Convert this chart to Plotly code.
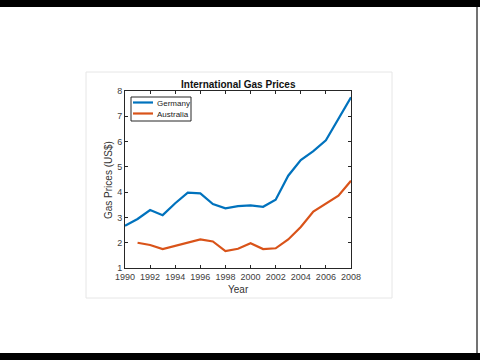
import plotly.graph_objects as go

years = list(range(1990, 2009))
germany = [2.67, 2.94, 3.29, 3.09, 3.56, 3.98, 3.95, 3.53, 3.36, 3.45,
           3.48, 3.42, 3.70, 4.65, 5.27, 5.62, 6.05, 6.90, 7.75]
australia_years = list(range(1991, 2009))
australia = [2.00, 1.91, 1.75, 1.87, 2.00, 2.13, 2.05, 1.67, 1.76,
             1.98, 1.75, 1.78, 2.13, 2.62, 3.23, 3.53, 3.86, 4.45]
series_names = ["Germany", "Australia"]
series_colors = ["#0072BD", "#D95319"]

x_ticks = list(range(1990, 2009, 2))
y_ticks = list(range(1, 9))

# plot area in pixels
L, R, T, B = 125, 351, 91, 268
W, H = 480, 360
pw, ph = R - L, B - T


def px(x):
    return (x - L) / pw


def py(y):
    return (B - y) / ph


FONT = "Liberation Sans, Arial, sans-serif"

fig = go.Figure()
fig.add_trace(go.Scatter(x=years, y=germany, mode="lines", name=series_names[0],
                         line=dict(color=series_colors[0], width=2.2)))
fig.add_trace(go.Scatter(x=australia_years, y=australia, mode="lines", name=series_names[1],
                         line=dict(color=series_colors[1], width=2.2)))

tickfont = dict(family=FONT, size=9, color="#404040")
axis_common = dict(showline=True, linecolor="#262626", linewidth=1, mirror="ticks",
                   ticks="inside", ticklen=3, tickcolor="#262626", showgrid=False,
                   zeroline=False, tickfont=tickfont)

shapes = [
    # black letterbox bars
    dict(type="rect", xref="paper", yref="paper", x0=px(-5), x1=px(W + 5), y0=py(-5), y1=py(7),
         fillcolor="black", line=dict(width=0), layer="above"),
    dict(type="rect", xref="paper", yref="paper", x0=px(-5), x1=px(W + 5), y0=py(353), y1=py(H + 10),
         fillcolor="black", line=dict(width=0), layer="above"),
    # right edge line
    dict(type="line", xref="paper", yref="paper", x0=px(477), x1=px(477), y0=py(7), y1=py(353),
         line=dict(color="#444", width=1.5), layer="above"),
    # figure panel border
    dict(type="rect", xref="paper", yref="paper", x0=px(86), x1=px(392), y0=py(72), y1=py(298),
         fillcolor="rgba(0,0,0,0)", line=dict(color="#e6e6e6", width=1), layer="below"),
    # legend box
    dict(type="rect", xref="paper", yref="paper", x0=px(131), x1=px(191), y0=py(97), y1=py(121),
         fillcolor="white", line=dict(color="#262626", width=1), layer="above"),
]

annotations = [
    dict(text="<b>International Gas Prices</b>", xref="paper", yref="paper",
         x=px(238), y=py(84), xanchor="center", yanchor="middle", showarrow=False,
         font=dict(family=FONT, size=10, color="#111")),
    dict(text="Year", xref="paper", yref="paper", x=px(238), y=py(289),
         xanchor="center", yanchor="middle", showarrow=False,
         font=dict(family=FONT, size=10, color="#333")),
    dict(text="Gas Prices (US$)", xref="paper", yref="paper", x=px(108), y=py(180),
         xanchor="center", yanchor="middle", showarrow=False, textangle=-90,
         font=dict(family=FONT, size=10, color="#333")),
]

# legend entries
for i, (name, color) in enumerate(zip(series_names, series_colors)):
    yy = 102.5 + i * 11
    shapes.append(dict(type="line", xref="paper", yref="paper", x0=px(133), x1=px(153),
                       y0=py(yy), y1=py(yy), line=dict(color=color, width=2.2), layer="above"))
    annotations.append(dict(text=name, xref="paper", yref="paper", x=px(155), y=py(yy + 1),
                            xanchor="left", yanchor="middle", showarrow=False,
                            font=dict(family=FONT, size=8, color="#222")))

fig.update_layout(
    width=W, height=H,
    margin=dict(l=L, r=W - R, t=T, b=H - B, pad=0),
    paper_bgcolor="white", plot_bgcolor="white",
    xaxis=dict(range=[1990, 2008], tickvals=x_ticks, ticktext=[str(v) for v in x_ticks],
               **axis_common),
    yaxis=dict(range=[1, 8], tickvals=y_ticks, ticktext=[str(v) for v in y_ticks],
               **axis_common),
    showlegend=False,
    shapes=shapes,
    annotations=annotations,
)

fig.write_html("out.html", config={"displayModeBar": False},
               post_script="document.body.style.margin='0';document.body.style.overflow='hidden';"
                           "document.body.style.background='black';")
